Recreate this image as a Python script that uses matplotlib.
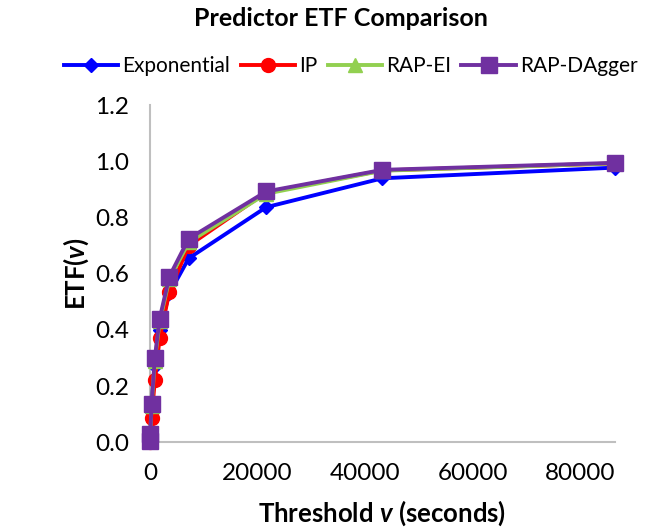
import matplotlib
matplotlib.use("Agg")
import matplotlib.pyplot as plt

plt.rcParams['font.family'] = ['Lato', 'DejaVu Sans']
plt.rcParams['mathtext.fontset'] = 'custom'
plt.rcParams['mathtext.it'] = 'Lato:bold:italic'
plt.rcParams['mathtext.rm'] = 'Lato:bold'
plt.rcParams['mathtext.bf'] = 'Lato:bold'

thresholds = [0, 60, 300, 900, 1800, 3600, 7200, 21600, 43200, 86400]
exponential = [0.005, 0.03, 0.14, 0.27, 0.40, 0.53, 0.655, 0.837, 0.94, 0.978]
ip = [0.0, 0.02, 0.085, 0.22, 0.37, 0.535, 0.70, 0.89, 0.968, 0.993]
rap_ei = [0.005, 0.03, 0.13, 0.29, 0.43, 0.58, 0.712, 0.885, 0.967, 0.993]
rap_dagger = [0.005, 0.03, 0.135, 0.30, 0.44, 0.59, 0.725, 0.893, 0.97, 0.995]

series = [
    ("Exponential", exponential, "#0000FF", "D", 7),
    ("IP", ip, "#FF0000", "o", 10),
    ("RAP-EI", rap_ei, "#92D050", "^", 10),
    ("RAP-DAgger", rap_dagger, "#7030A0", "s", 11),
]

fig = plt.figure(figsize=(6.52, 5.29), dpi=100)
ax = fig.add_axes([0.230, 0.164, 0.713, 0.637])

for name, vals, col, mk, ms in series:
    ax.plot(thresholds, vals, color=col, marker=mk, markersize=ms, linewidth=2.8,
            label=name, clip_on=False, zorder=3)

ax.set_xlim(0, 86400)
ax.set_ylim(0, 1.2)
ax.set_xticks([0, 20000, 40000, 60000, 80000])
ax.set_xticklabels(["0", "20000", "40000", "60000", "80000"])
ax.set_yticks([0.0, 0.2, 0.4, 0.6, 0.8, 1.0, 1.2])
ax.set_yticklabels(["0.0", "0.2", "0.4", "0.6", "0.8", "1.0", "1.2"])
ax.tick_params(axis='both', length=0, labelsize=17.5, colors='#000000')
ax.tick_params(axis='x', pad=15)
ax.tick_params(axis='y', pad=15)

for s in ['top', 'right']:
    ax.spines[s].set_visible(False)
for s in ['left', 'bottom']:
    ax.spines[s].set_color('#BFBFBF')
    ax.spines[s].set_linewidth(1.5)

ax.set_xlabel("Threshold $v$ (seconds)", fontsize=18.5, fontweight='bold')
ax.set_ylabel("ETF($v$)", fontsize=18.5, fontweight='bold')
ax.xaxis.label.set_va('center')
ax.yaxis.label.set_va('center')
ax.xaxis.set_label_coords(0.5, -0.21)
ax.yaxis.set_label_coords(-0.158, 0.5)

fig.text(0.523, 0.965, "Predictor ETF Comparison", ha='center', va='center',
         fontsize=18, fontweight='bold')

leg = fig.legend(loc='center', bbox_to_anchor=(0.538, 0.875), ncol=4, frameon=False,
                 fontsize=15, handlelength=2.6, columnspacing=0.5, handletextpad=0.2)

fig.savefig("out.png", dpi=100)
